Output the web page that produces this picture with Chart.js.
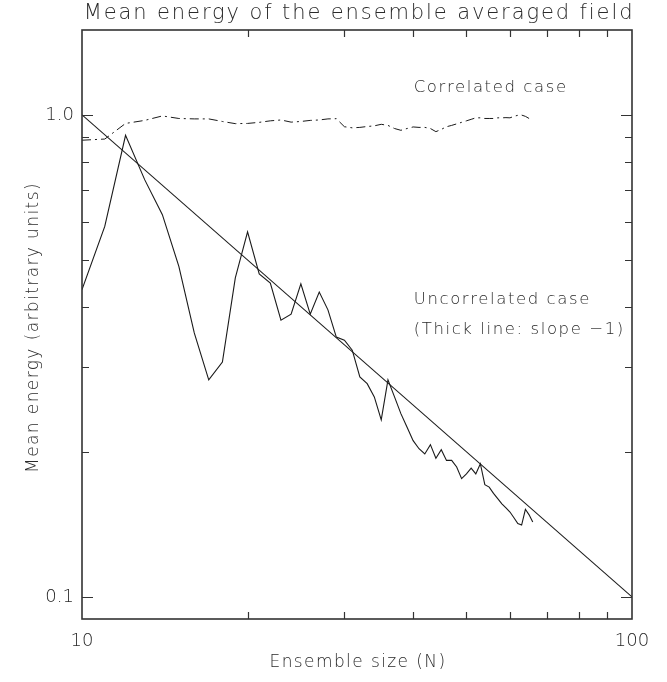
<!DOCTYPE html>
<html>
<head>
<meta charset="utf-8">
<script src="https://cdn.jsdelivr.net/npm/chart.js@4.4.1/dist/chart.umd.min.js"></script>
<style>
  html, body { margin: 0; padding: 0; background: #fff; }
  #wrap { width: 667px; height: 682px; }
</style>
</head>
<body>
<div id="wrap"><canvas id="energyChart" width="667" height="682"></canvas></div>
<script>
// Ensemble sizes (N) and mean energies
const ensembleSizes = [10, 11, 12, 13, 14, 15, 16, 17, 18, 19, 20, 21, 22, 23, 24, 25, 26, 27, 28, 29,
  30, 31, 32, 33, 34, 35, 36, 37, 38, 39, 40, 41, 42, 43, 44, 45, 46, 47, 48, 49,
  50, 51, 52, 53, 54, 55, 56, 57, 58, 59, 60, 61, 62, 63, 64, 65, 66];
const uncorrelated = [0.434, 0.587, 0.907, 0.734, 0.621, 0.485, 0.353, 0.282, 0.307, 0.459,
  0.572, 0.468, 0.448, 0.375, 0.386, 0.446, 0.386, 0.429, 0.394, 0.346,
  0.341, 0.325, 0.286, 0.277, 0.260, 0.233, 0.282, 0.260, 0.240, 0.225,
  0.211, 0.203, 0.198, 0.207, 0.194, 0.202, 0.192, 0.192, 0.186, 0.176,
  0.180, 0.185, 0.180, 0.189, 0.171, 0.169, 0.164, 0.160, 0.156, 0.153,
  0.150, 0.146, 0.142, 0.141, 0.152, 0.148, 0.143];
const correlated = [0.886, 0.891, 0.960, 0.974, 0.995, 0.983, 0.981, 0.981, 0.969, 0.959,
  0.960, 0.965, 0.972, 0.976, 0.966, 0.969, 0.974, 0.976, 0.981, 0.982,
  0.945, 0.940, 0.942, 0.946, 0.949, 0.956, 0.951, 0.937, 0.929, 0.937,
  0.944, 0.942, 0.942, 0.937, 0.923, 0.933, 0.945, 0.951, 0.958, 0.965,
  0.972, 0.979, 0.986, 0.986, 0.983, 0.983, 0.983, 0.986, 0.986, 0.987,
  0.986, 0.993, 0.998, 0.999, 0.993, 0.983];
// reference line of slope -1
const slopeN = [10, 100];
const slopeEnergy = [1.0, 0.1];

const xTickValues = [10, 100];
const xMinorTicks = [20, 30, 40, 50, 60, 70, 80, 90];
const yTickValues = [0.1, 1.0];
const yMinorTicks = [0.2, 0.3, 0.4, 0.5, 0.6, 0.7, 0.8, 0.9];

const FONT = '"DejaVu Sans", sans-serif';
const INK = '#1a1a1a';
const TEXT = '#2a2a2a';

function toPoints(xs, ys) {
  return ys.map((v, i) => ({ x: xs[i], y: v }));
}

// frame, inward ticks and the free text of the plot
const frameAndText = {
  id: 'frameAndText',
  afterDraw(chart) {
    const { ctx, chartArea: a, scales } = chart;
    const xs = scales.x, ys = scales.y;
    ctx.save();
    ctx.strokeStyle = '#333';
    ctx.lineWidth = 1.6;
    ctx.strokeRect(a.left, a.top, a.right - a.left, a.bottom - a.top);

    ctx.lineWidth = 1.2;
    ctx.beginPath();
    xMinorTicks.forEach(v => {
      const px = Math.round(xs.getPixelForValue(v)) + 0.5;
      ctx.moveTo(px, a.bottom); ctx.lineTo(px, a.bottom - 7);
      ctx.moveTo(px, a.top); ctx.lineTo(px, a.top + 7);
    });
    yMinorTicks.forEach(v => {
      const py = Math.round(ys.getPixelForValue(v)) + 0.5;
      ctx.moveTo(a.left, py); ctx.lineTo(a.left + 7, py);
      ctx.moveTo(a.right, py); ctx.lineTo(a.right - 7, py);
    });
    yTickValues.forEach(v => {
      const py = Math.round(ys.getPixelForValue(v)) + 0.5;
      ctx.moveTo(a.left, py); ctx.lineTo(a.left + 11, py);
      ctx.moveTo(a.right, py); ctx.lineTo(a.right - 11, py);
    });
    ctx.stroke();

    ctx.fillStyle = TEXT;
    ctx.textBaseline = 'middle';

    // title
    ctx.font = '300 21px ' + FONT;
    ctx.letterSpacing = '1.9px';
    ctx.textAlign = 'center';
    ctx.fillText('Mean energy of the ensemble averaged field', (a.left + a.right) / 2 + 2, 14);

    // axis titles
    ctx.font = '300 17px ' + FONT;
    ctx.letterSpacing = '1.4px';
    ctx.fillText('Ensemble size (N)', (a.left + a.right) / 2 + 1, 663);
    ctx.save();
    ctx.translate(34, (a.top + a.bottom) / 2 + 3);
    ctx.rotate(-Math.PI / 2);
    ctx.fillText('Mean energy (arbitrary units)', 0, 0);
    ctx.restore();

    // annotations
    ctx.font = '300 16.5px ' + FONT;
    ctx.letterSpacing = '1.6px';
    ctx.textAlign = 'left';
    const tx = xs.getPixelForValue(40.1);
    ctx.fillText('Correlated case', tx, ys.getPixelForValue(1.14));
    ctx.fillText('Uncorrelated case', tx, ys.getPixelForValue(0.413));
    ctx.fillText('(Thick line: slope \u22121)', tx, ys.getPixelForValue(0.358));
    ctx.restore();
  }
};

const ctx = document.getElementById('energyChart');
new Chart(ctx, {
  type: 'line',
  data: {
    datasets: [
      {
        label: 'Correlated case',
        data: toPoints(ensembleSizes, correlated),
        borderColor: INK,
        borderWidth: 1,
        borderDash: [9, 4, 2, 4],
        pointRadius: 0,
        tension: 0
      },
      {
        label: 'Uncorrelated case',
        data: toPoints(ensembleSizes, uncorrelated),
        borderColor: INK,
        borderWidth: 1.1,
        pointRadius: 0,
        tension: 0
      },
      {
        label: 'Slope -1',
        data: toPoints(slopeN, slopeEnergy),
        borderColor: INK,
        borderWidth: 1.1,
        pointRadius: 0,
        tension: 0
      }
    ]
  },
  options: {
    responsive: false,
    animation: false,
    devicePixelRatio: 1,
    layout: { padding: { top: 30, right: 35, left: 0, bottom: 0 } },
    plugins: {
      legend: { display: false },
      tooltip: { enabled: false }
    },
    scales: {
      x: {
        type: 'logarithmic',
        min: 10,
        max: 100,
        afterBuildTicks: s => { s.ticks = xTickValues.map(v => ({ value: v })); },
        afterFit: s => { s.height = 63; },
        grid: { display: false, drawTicks: false },
        border: { display: false },
        ticks: {
          padding: 12,
          color: TEXT,
          font: { family: FONT, size: 18, weight: '300' },
          maxRotation: 0,
          autoSkip: false,
          callback: v => String(v)
        }
      },
      y: {
        type: 'logarithmic',
        min: 0.09,
        max: 1.5,
        afterBuildTicks: s => { s.ticks = yTickValues.map(v => ({ value: v })); },
        afterFit: s => { s.width = 82; },
        grid: { display: false, drawTicks: false },
        border: { display: false },
        ticks: {
          padding: 8,
          color: TEXT,
          font: { family: FONT, size: 18, weight: '300' },
          autoSkip: false,
          callback: v => Number(v).toFixed(1)
        }
      }
    }
  },
  plugins: [frameAndText]
});
</script>
</body>
</html>
